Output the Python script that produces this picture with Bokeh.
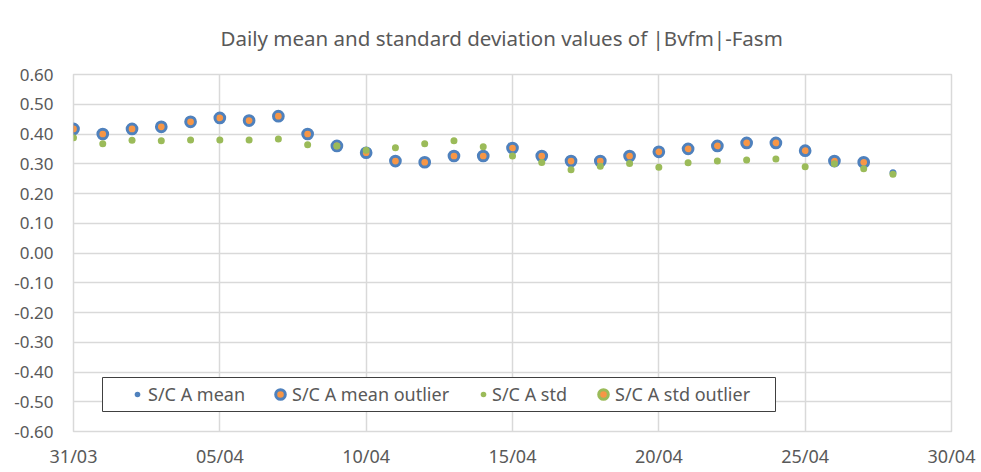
from datetime import datetime, timedelta

from bokeh.plotting import figure
from bokeh.models import (Range1d, FixedTicker, DatetimeTickFormatter, NumeralTickFormatter,
                          Legend, LegendItem, ColumnDataSource, BoxAnnotation, Title)
from bokeh.embed import file_html
from bokeh.resources import INLINE

# ---------------- data ----------------
start_date = datetime(2023, 3, 31)
day_dates = [start_date + timedelta(days=i) for i in range(29)]  # 31/03 .. 28/04

mean_values = [0.417, 0.400, 0.417, 0.424, 0.441, 0.454, 0.445, 0.460, 0.400, 0.360,
               0.337, 0.309, 0.305, 0.326, 0.326, 0.353, 0.326, 0.309, 0.309, 0.326,
               0.340, 0.350, 0.360, 0.370, 0.370, 0.344, 0.309, 0.305, 0.270]
mean_outlier_dates = day_dates[:28]
mean_outlier_values = mean_values[:28]

std_values = [0.387, 0.367, 0.379, 0.377, 0.380, 0.380, 0.380, 0.383, 0.364, 0.360,
              0.345, 0.354, 0.367, 0.377, 0.357, 0.326, 0.304, 0.280, 0.292, 0.301,
              0.288, 0.303, 0.309, 0.313, 0.316, 0.290, 0.300, 0.283, 0.265]
std_outlier_dates = []
std_outlier_values = []

x_tick_dates = [start_date + timedelta(days=5 * k) for k in range(7)]  # 31/03 .. 30/04
y_ticks = [round(-0.6 + 0.1 * k, 2) for k in range(13)]

series_labels = ["S/C A mean", "S/C A mean outlier", "S/C A std", "S/C A std outlier"]
title_text = "Daily mean and standard deviation values of |Bvfm|-Fasm"

BLUE = "#4F81BD"
ORANGE = "#F79646"
GREEN = "#9BBB59"
TEXT = "#595959"
GRID = "#D9D9D9"
FONT = "Noto Sans"

epoch = datetime(1970, 1, 1)
def ms(d):
    return (d - epoch).total_seconds() * 1000.0

# ---------------- figure ----------------
p = figure(width=980, height=471, output_backend="svg", toolbar_location=None,
           x_axis_type="datetime",
           x_range=Range1d(start=x_tick_dates[0], end=x_tick_dates[-1]),
           y_range=Range1d(start=-0.6, end=0.6),
           min_border_left=73, min_border_right=29, min_border_top=70, min_border_bottom=40)
p.background_fill_color = "white"
p.border_fill_color = "white"
p.outline_line_color = GRID
p.outline_line_width = 1.5

p.title = Title(text=title_text, align="left", offset=147, standoff=44,
                vertical_align="middle", text_baseline="middle",
                text_font=FONT, text_font_size="20.5px", text_font_style="normal",
                text_color=TEXT)

p.xaxis.ticker = FixedTicker(ticks=[ms(d) for d in x_tick_dates])
p.xaxis.formatter = DatetimeTickFormatter(days="%d/%m", months="%d/%m", hours="%d/%m")
p.yaxis.ticker = FixedTicker(ticks=y_ticks)
p.yaxis.formatter = NumeralTickFormatter(format="0.00")

for ax in (p.xaxis[0], p.yaxis[0]):
    ax.axis_line_color = None
    ax.major_tick_line_color = None
    ax.minor_tick_line_color = None
    ax.major_tick_out = 0
    ax.major_tick_in = 0
    ax.major_label_text_font = FONT
    ax.major_label_text_color = TEXT
p.xaxis.major_label_text_font_size = "18px"
p.yaxis.major_label_text_font_size = "17px"
p.xaxis.major_label_standoff = 12
p.yaxis.major_label_standoff = 20

p.xgrid.ticker = FixedTicker(ticks=[ms(d) for d in x_tick_dates])
p.ygrid.ticker = FixedTicker(ticks=y_ticks)
p.xgrid.grid_line_color = GRID
p.ygrid.grid_line_color = GRID
p.xgrid.grid_line_width = 1.5
p.ygrid.grid_line_width = 1.5

# ---------------- glyphs ----------------
src_mean = ColumnDataSource(dict(x=day_dates, y=mean_values))
src_mean_out = ColumnDataSource(dict(x=mean_outlier_dates, y=mean_outlier_values))
src_std = ColumnDataSource(dict(x=day_dates, y=std_values))
src_std_out = ColumnDataSource(dict(x=std_outlier_dates, y=std_outlier_values))

r_mean = p.scatter("x", "y", source=src_mean, size=7, fill_color=BLUE, line_color=None)
r_mean_out = p.scatter("x", "y", source=src_mean_out, size=9.7, fill_color=ORANGE,
                       line_color=BLUE, line_width=3)
r_std = p.scatter("x", "y", source=src_std, size=7, fill_color=GREEN, line_color=None)
r_std_out = p.scatter("x", "y", source=src_std_out, size=9.7, fill_color=ORANGE,
                      line_color=GREEN, line_width=3)
# legend-only proxy for the (empty) std-outlier series
proxy_src = ColumnDataSource(dict(x=[day_dates[0]], y=[float("nan")]))
r_std_out_key = p.scatter("x", "y", source=proxy_src, size=9.7, fill_color=ORANGE,
                          line_color=GREEN, line_width=3)

# ---------------- legend ----------------
p.add_layout(BoxAnnotation(left=102, right=775, top=377, bottom=411,
                           left_units="canvas", right_units="canvas",
                           top_units="canvas", bottom_units="canvas",
                           fill_color="white", fill_alpha=1,
                           line_color="#404040", line_alpha=1, line_width=1))

legend_specs = [
    (series_labels[0], r_mean, 14, 57, 4),
    (series_labels[1], r_mean_out, 24, 195, 0),
    (series_labels[2], r_std, 14, 403, 2),
    (series_labels[3], r_std_out_key, 24, 518, 0),
]
for label, rend, gw, lx, standoff in legend_specs:
    lg = Legend(items=[LegendItem(label=label, renderers=[rend])], location=(lx, 25),
                orientation="horizontal", glyph_width=gw, glyph_height=24, label_height=24,
                label_standoff=standoff, padding=0, margin=0, spacing=0,
                border_line_alpha=0, background_fill_alpha=0,
                label_text_font=FONT, label_text_font_size="18px", label_text_color=TEXT)
    p.add_layout(lg, "center")

open("out.html", "w").write(file_html(p, INLINE))
